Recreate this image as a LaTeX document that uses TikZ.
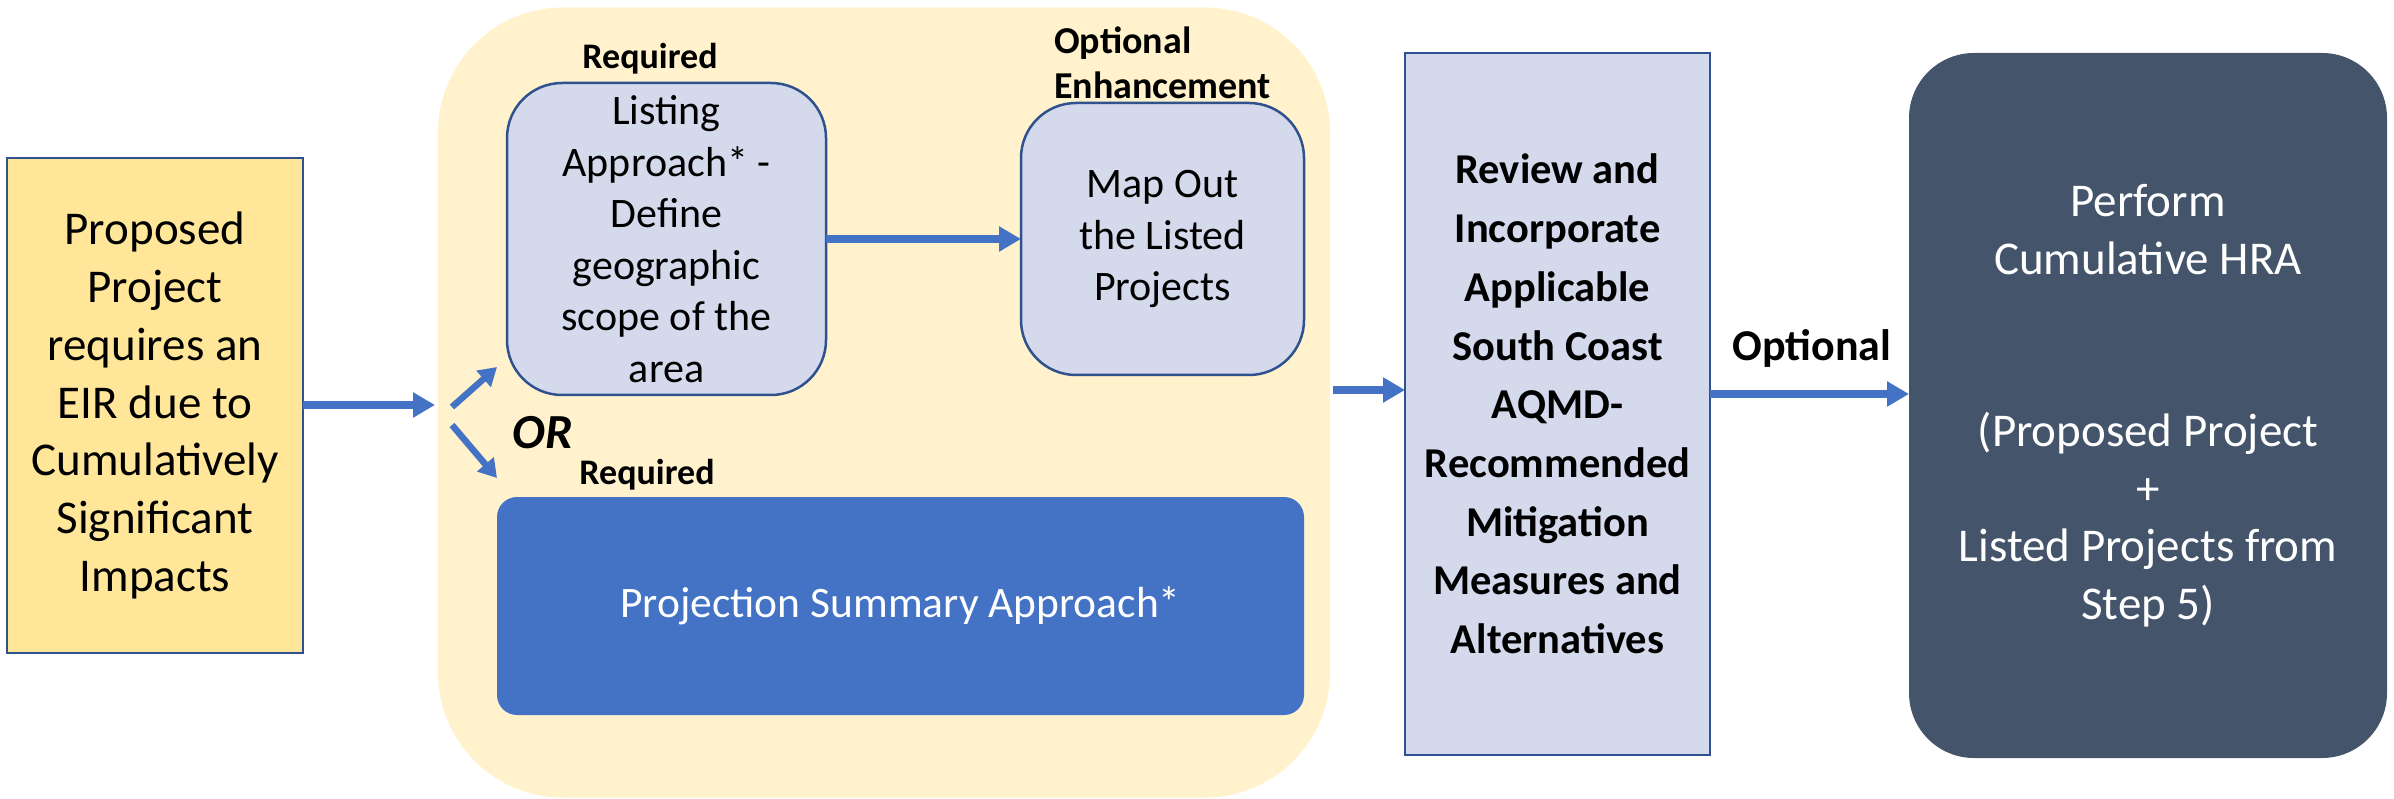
\documentclass[tikz,border=0pt]{standalone}
\usepackage{fontspec}
\setmainfont{Carlito}
\usetikzlibrary{arrows.meta}
\definecolor{accent}{HTML}{4472C4}
\definecolor{edgeblue}{HTML}{2F528F}
\definecolor{goldfill}{HTML}{FFE699}
\definecolor{creamfill}{HTML}{FFF2CC}
\definecolor{lavender}{HTML}{D4DAEC}
\definecolor{slate}{HTML}{44546A}
\tikzset{
  box/.style={rectangle, inner sep=0pt, outer sep=0pt, align=center},
  tagtext/.style={inner sep=0pt, font=\bfseries\fontsize{36}{44}\selectfont},
  flowarrow/.style={draw=accent, line width=7.5pt, -{Triangle[length=22pt,width=24pt]}},
  smallarrow/.style={draw=accent, line width=6.5pt, -{Triangle[length=18pt,width=21pt]}}
}
\begin{document}
\begin{tikzpicture}[x=1pt,y=-1pt]
\useasboundingbox (0,0) rectangle (2394,799);

% group background for the two approaches
\node[box, fill=creamfill, rounded corners=125pt, minimum width=892pt, minimum height=790pt] (group) at (884,402.5) {};

% step boxes
\node[box, fill=goldfill, draw=edgeblue, line width=2.5pt, minimum width=296pt, minimum height=495pt,
      font=\fontsize{47}{57.7}\selectfont] (start) at (155,405.5)
  {Proposed\\Project\\requires an\\EIR due to\\Cumulatively\\Significant\\Impacts};

\node[box, fill=lavender, draw=edgeblue, line width=2.5pt, rounded corners=55pt, minimum width=319pt, minimum height=312pt,
      font=\fontsize{42}{51.5}\selectfont] (listing) at (666.5,239)
  {Listing\\Approach* -\\Define\\geographic\\scope of the\\area};

\node[box, fill=lavender, draw=edgeblue, line width=2.5pt, rounded corners=55pt, minimum width=283pt, minimum height=272pt,
      font=\fontsize{42}{51.5}\selectfont] (mapout) at (1162.5,239)
  {Map Out\\the Listed\\Projects};

\node[box, fill=accent, rounded corners=20pt, minimum width=807pt, minimum height=218pt, text=white,
      font=\fontsize{43.5}{52}\selectfont] (projection) at (900.5,606)
  {Projection Summary Approach*};

\node[box, fill=lavender, draw=edgeblue, line width=2.5pt, minimum width=305pt, minimum height=702pt,
      font=\bfseries\fontsize{42.5}{58.7}\selectfont] (review) at (1557.5,404)
  {Review and\\Incorporate\\Applicable\\South Coast\\AQMD-\\Recommended\\Mitigation\\Measures and\\Alternatives};

\node[box, fill=slate, rounded corners=65pt, minimum width=478pt, minimum height=705pt, text=white,
      font=\fontsize{47}{57.5}\selectfont] (hra) at (2148,405.5)
  {Perform\\Cumulative HRA\\[115pt](Proposed Project\\+\\Listed Projects from\\Step 5)};

% labels
\node[tagtext] (req1) at (650,59) {Required};
\node[tagtext] (req2) at (647,475) {Required};
\node[tagtext, anchor=west, align=left, font=\bfseries\fontsize{38}{45}\selectfont] (opt) at (1054,63) {Optional\\Enhancement};
\node[inner sep=0pt, font=\bfseries\itshape\fontsize{49}{56}\selectfont] (or) at (543,433) {OR};
\node[inner sep=0pt, font=\bfseries\fontsize{44}{50}\selectfont] (optlabel) at (1812,348) {Optional};

% connector end points
\coordinate (fork) at (435,405);
\coordinate (upstart) at (452,407);
\coordinate (upend) at (497,367);
\coordinate (downstart) at (452,425);
\coordinate (downend) at (497,478);
\coordinate (groupout) at (1333,390);

% connectors
\draw[flowarrow] (start.east |- fork) -- (fork);
\draw[smallarrow] (upstart) -- (upend);
\draw[smallarrow] (downstart) -- (downend);
\draw[flowarrow] (listing.east) -- (mapout.west);
\draw[flowarrow] (groupout) -- (review.west |- groupout);
\draw[flowarrow] (review.east |- 0,394) -- (hra.west |- 0,394);
\end{tikzpicture}
\end{document}
